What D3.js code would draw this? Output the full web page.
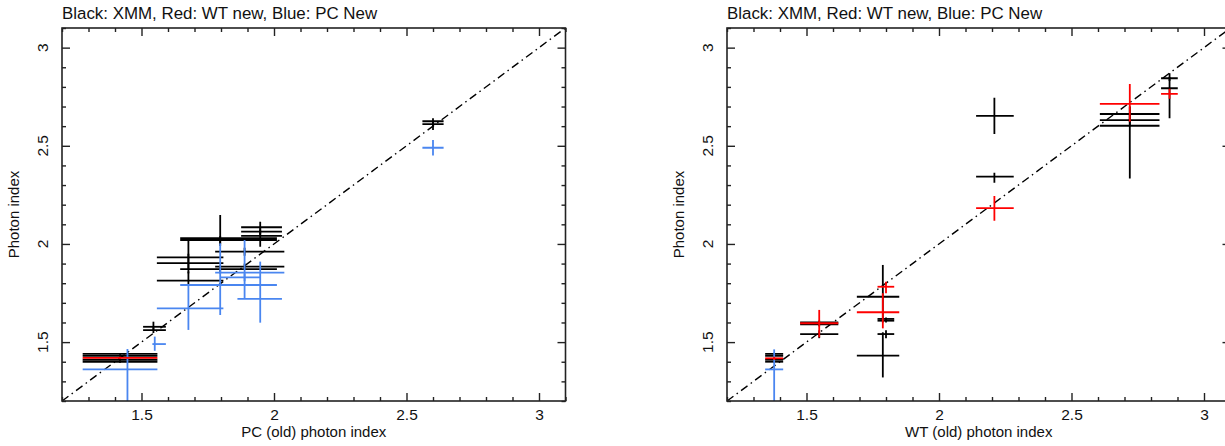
<!DOCTYPE html>
<html>
<head>
<meta charset="utf-8">
<script src="https://cdn.jsdelivr.net/npm/d3@7"></script>
<style>
  body { margin: 0; background: #fff; }
  text { font-family: "Liberation Sans", Arial, Helvetica, sans-serif; fill: #111; }
</style>
</head>
<body>
<div id="chart"></div>
<script>
// titles and labels
const titleText = "Black: XMM, Red: WT new, Blue: PC New";
const xLabels = ["PC (old) photon index", "WT (old) photon index"];
const yLabel = "Photon index";
const majorTicks = [1.5, 2, 2.5, 3];
const tickLabels = ["1.5", "2", "2.5", "3"];
const axisDomain = [1.2, 3.1];

// each row: [x, xLow, xHigh, y, yLow, yHigh]
// left panel: PC (old)
const pcXmm = [
  [1.419, 1.278, 1.56, 1.44, 1.435, 1.445],
  [1.419, 1.278, 1.56, 1.43, 1.425, 1.435],
  [1.419, 1.278, 1.56, 1.41, 1.405, 1.415],
  [1.419, 1.278, 1.56, 1.40, 1.395, 1.405],
  [1.545, 1.506, 1.592, 1.578, 1.56, 1.604],
  [1.545, 1.506, 1.592, 1.561, 1.546, 1.575],
  [1.797, 1.646, 2.011, 2.03, 1.99, 2.148],
  [1.797, 1.646, 2.011, 2.02, 2.0, 2.04],
  [1.797, 1.646, 2.011, 1.872, 1.85, 1.89],
  [1.677, 1.558, 1.809, 1.932, 1.87, 2.02],
  [1.677, 1.558, 1.809, 1.902, 1.85, 1.95],
  [1.677, 1.558, 1.809, 1.813, 1.79, 1.86],
  [1.948, 1.876, 2.03, 2.085, 2.05, 2.113],
  [1.948, 1.876, 2.03, 2.063, 2.04, 2.08],
  [1.948, 1.876, 2.03, 2.041, 1.986, 2.07],
  [1.889, 1.778, 2.039, 1.961, 1.94, 1.98],
  [1.889, 1.778, 2.039, 1.884, 1.87, 1.90],
  [2.6, 2.56, 2.64, 2.625, 2.6, 2.64],
  [2.6, 2.56, 2.64, 2.61, 2.58, 2.625]
];
const pcWtNew = [
  [1.419, 1.278, 1.56, 1.42, 1.415, 1.425]
];
const pcPcNew = [
  [1.447, 1.278, 1.56, 1.361, 1.15, 1.465],
  [1.55, 1.541, 1.592, 1.49, 1.456, 1.528],
  [1.677, 1.558, 1.809, 1.672, 1.562, 1.791],
  [1.797, 1.646, 2.011, 1.791, 1.638, 2.003],
  [1.889, 1.778, 2.039, 1.854, 1.72, 2.02],
  [1.889, 1.797, 1.948, 1.83, 1.81, 1.85],
  [1.948, 1.862, 2.03, 1.72, 1.599, 1.91],
  [2.6, 2.56, 2.64, 2.49, 2.45, 2.53]
];

// right panel: WT (old)
const wtXmm = [
  [1.378, 1.344, 1.412, 1.44, 1.435, 1.445],
  [1.378, 1.344, 1.412, 1.43, 1.425, 1.435],
  [1.378, 1.344, 1.412, 1.41, 1.405, 1.415],
  [1.378, 1.344, 1.412, 1.40, 1.395, 1.405],
  [1.548, 1.476, 1.62, 1.60, 1.59, 1.61],
  [1.548, 1.476, 1.62, 1.591, 1.58, 1.60],
  [1.548, 1.476, 1.62, 1.541, 1.52, 1.56],
  [1.788, 1.69, 1.85, 1.731, 1.60, 1.893],
  [1.788, 1.69, 1.85, 1.431, 1.32, 1.55],
  [1.80, 1.768, 1.831, 1.618, 1.61, 1.625],
  [1.80, 1.768, 1.831, 1.609, 1.60, 1.615],
  [1.80, 1.768, 1.831, 1.541, 1.52, 1.56],
  [2.209, 2.14, 2.282, 2.652, 2.56, 2.745],
  [2.209, 2.14, 2.282, 2.343, 2.312, 2.363],
  [2.72, 2.607, 2.832, 2.662, 2.62, 2.70],
  [2.72, 2.607, 2.832, 2.631, 2.60, 2.66],
  [2.72, 2.607, 2.832, 2.602, 2.334, 2.70],
  [2.87, 2.838, 2.901, 2.844, 2.83, 2.869],
  [2.87, 2.838, 2.901, 2.793, 2.64, 2.85]
];
const wtWtNew = [
  [1.378, 1.344, 1.412, 1.4175, 1.41, 1.425],
  [1.548, 1.476, 1.62, 1.596, 1.524, 1.664],
  [1.788, 1.69, 1.85, 1.652, 1.57, 1.749],
  [1.80, 1.768, 1.831, 1.782, 1.749, 1.808],
  [2.209, 2.14, 2.282, 2.182, 2.118, 2.244],
  [2.72, 2.607, 2.832, 2.713, 2.623, 2.815],
  [2.87, 2.838, 2.901, 2.764, 2.74, 2.79]
];
const wtPcNew = [
  [1.378, 1.344, 1.412, 1.361, 1.15, 1.463]
];

const colors = { xmm: "#000000", wt: "#ff0000", pc: "#4a86f0" };

const width = 1225, height = 446;
const plotTop = 28, plotBottom = 401, plotW = 503.5;

const svg = d3.select("#chart").append("svg")
  .attr("width", width).attr("height", height)
  .style("background", "#fff");

const minorTicks = d3.range(12, 32).map(d => d / 10).filter(v => !majorTicks.some(m => Math.abs(m - v) < 1e-6));

function drawPanel(left, sets, xLabel, idx) {
  const x = d3.scaleLinear().domain(axisDomain).range([left, left + plotW]);
  const y = d3.scaleLinear().domain(axisDomain).range([plotBottom, plotTop]);
  const g = svg.append("g");

  const clipId = "clip" + idx;
  g.append("clipPath").attr("id", clipId)
    .append("rect").attr("x", left).attr("y", plotTop).attr("width", plotW).attr("height", plotBottom - plotTop);
  const plot = g.append("g").attr("clip-path", `url(#${clipId})`);

  // one-to-one line
  plot.append("line")
    .attr("x1", x(axisDomain[0])).attr("y1", y(axisDomain[0]))
    .attr("x2", x(axisDomain[1])).attr("y2", y(axisDomain[1]))
    .attr("stroke", "#000").attr("stroke-width", 1.4)
    .attr("stroke-dasharray", "8,4,1.5,4");

  sets.forEach(s => {
    const grp = plot.append("g").attr("stroke", s.color).attr("stroke-width", 1.8);
    grp.selectAll("line.h").data(s.data).join("line").attr("class", "h")
      .attr("x1", d => x(d[1])).attr("x2", d => x(d[2]))
      .attr("y1", d => y(d[3])).attr("y2", d => y(d[3]));
    grp.selectAll("line.v").data(s.data).join("line").attr("class", "v")
      .attr("x1", d => x(d[0])).attr("x2", d => x(d[0]))
      .attr("y1", d => y(d[4])).attr("y2", d => y(d[5]));
  });

  // ticks on all four sides, pointing inward
  const addAxis = (axisFn, scale, vals, size, tx, ty, fmt) => {
    const a = g.append("g").attr("transform", `translate(${tx},${ty})`)
      .call(axisFn(scale).tickValues(vals).tickSize(-size).tickFormat(fmt || (() => "")));
    a.select(".domain").remove();
    a.selectAll(".tick line").attr("stroke", "#222").attr("stroke-width", 1.4);
    return a;
  };
  addAxis(d3.axisBottom, x, minorTicks, 4, 0, plotBottom);
  const xb = addAxis(d3.axisBottom, x, majorTicks, 8, 0, plotBottom, (d, i) => tickLabels[i]);
  xb.call(a => a.selectAll("text").attr("font-size", 15.5).attr("fill", "#111").attr("y", 8));
  addAxis(d3.axisTop, x, minorTicks, 4, 0, plotTop);
  addAxis(d3.axisTop, x, majorTicks, 8, 0, plotTop);
  addAxis(d3.axisLeft, y, minorTicks, 4, left, 0);
  addAxis(d3.axisLeft, y, majorTicks, 8, left, 0);
  addAxis(d3.axisRight, y, minorTicks, 4, left + plotW, 0);
  addAxis(d3.axisRight, y, majorTicks, 8, left + plotW, 0);

  // rotated y tick labels
  g.selectAll("text.ylab").data(majorTicks).join("text").attr("class", "ylab")
    .attr("transform", d => `translate(${left - 14},${y(d)}) rotate(-90)`)
    .attr("text-anchor", "middle").attr("font-size", 15.5)
    .text((d, i) => tickLabels[i]);

  // frame
  g.append("rect").attr("x", left).attr("y", plotTop).attr("width", plotW).attr("height", plotBottom - plotTop)
    .attr("fill", "none").attr("stroke", "#222").attr("stroke-width", 1.6);

  g.append("text").attr("x", left).attr("y", 19).attr("font-size", 16.9).text(titleText);
  g.append("text").attr("x", left + plotW / 2).attr("y", 437).attr("text-anchor", "middle")
    .attr("font-size", 15).text(xLabel);
  g.append("text").attr("transform", `translate(${left - 43},${(plotTop + plotBottom) / 2}) rotate(-90)`)
    .attr("text-anchor", "middle").attr("font-size", 15).text(yLabel);
}

drawPanel(62, [
  { data: pcXmm, color: colors.xmm },
  { data: pcPcNew, color: colors.pc },
  { data: pcWtNew, color: colors.wt }
], xLabels[0], 0);

drawPanel(727, [
  { data: wtXmm, color: colors.xmm },
  { data: wtPcNew, color: colors.pc },
  { data: wtWtNew, color: colors.wt }
], xLabels[1], 1);
</script>
</body>
</html>
